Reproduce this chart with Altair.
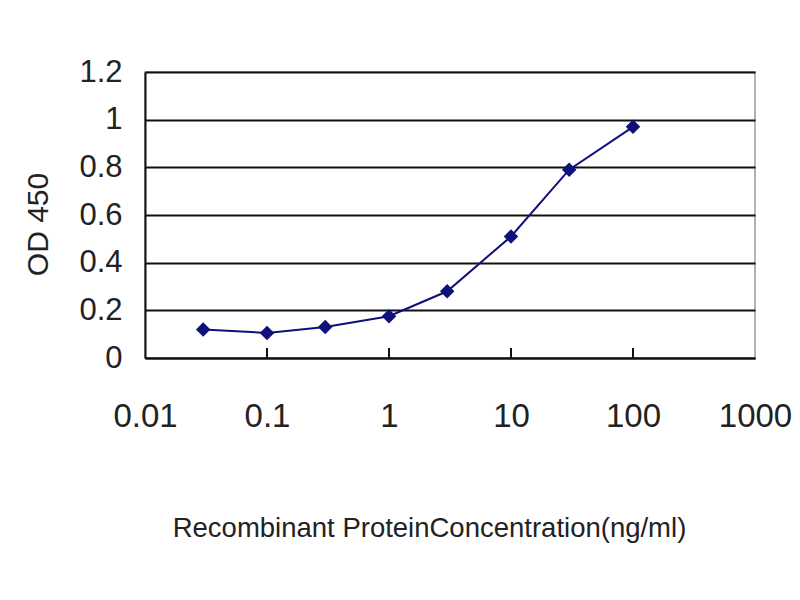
import altair as alt
import pandas as pd

# concentration (ng/ml) and OD 450
conc = [0.03, 0.1, 0.3, 1, 3, 10, 30, 100]
od450 = [0.12, 0.105, 0.13, 0.175, 0.28, 0.51, 0.79, 0.97]

x_ticks = [0.01, 0.1, 1, 10, 100, 1000]
inner_ticks = [0.1, 1, 10, 100]
y_ticks = [0, 0.2, 0.4, 0.6, 0.8, 1.0, 1.2]

NAVY = "#10107a"
FONT = "Liberation Sans"

df = pd.DataFrame({"conc": conc, "od": od450})
ticks_df = pd.DataFrame({"t": inner_ticks})

x_scale = alt.Scale(type="log", domain=[0.01, 1000])
y_scale = alt.Scale(domain=[0, 1.2])

x_axis = alt.Axis(
    values=x_ticks, format="~g", grid=False, ticks=False, labelFlush=False,
    labelFontSize=33, labelPadding=42, labelColor="#222222",
    domainColor="#111111", domainWidth=2,
    titleFontSize=27.5, titleFontWeight="normal", titleColor="#222222",
    titleX=284, titleY=170, titleBaseline="middle", titleAlign="center",
)
y_axis = alt.Axis(
    values=y_ticks, format="~g", ticks=False,
    gridColor="#111111", gridWidth=2, gridOpacity=1,
    labelFontSize=31, labelPadding=23, labelColor="#222222",
    domainColor="#111111", domainWidth=2,
    titleFontSize=30, titleFontWeight="normal", titleColor="#222222",
    titleX=-107, titleY=152, titleBaseline="middle", titleAlign="center",
)

line = (
    alt.Chart(df)
    .mark_line(color=NAVY, strokeWidth=2)
    .encode(
        x=alt.X("conc:Q", scale=x_scale, axis=x_axis,
                title="Recombinant ProteinConcentration(ng/ml)"),
        y=alt.Y("od:Q", scale=y_scale, axis=y_axis, title="OD 450"),
    )
)

points = (
    alt.Chart(df)
    .mark_point(shape="diamond", filled=True, size=210, color=NAVY, opacity=1)
    .encode(x=alt.X("conc:Q", scale=x_scale), y=alt.Y("od:Q", scale=y_scale))
)

inner = (
    alt.Chart(ticks_df)
    .mark_rule(color="#111111", strokeWidth=2)
    .encode(x=alt.X("t:Q", scale=x_scale), y=alt.value(276), y2=alt.value(286))
)

chart = (
    alt.layer(inner, line, points)
    .properties(
        width=610, height=286,
        autosize=alt.AutoSizeParams(type="none"),
        padding={"left": 137, "top": 64, "right": 37, "bottom": 228},
    )
    .configure(font=FONT)
    .configure_view(stroke="#9a9a9a", strokeWidth=1.5)
)

chart.save("out.html", embed_options={"renderer": "svg", "actions": False})
